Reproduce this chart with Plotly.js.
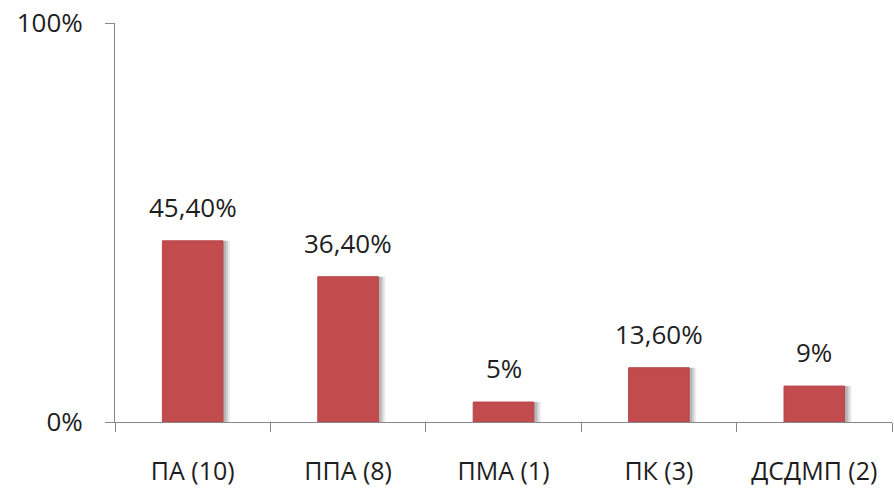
<!DOCTYPE html>
<html>
<head>
<meta charset="utf-8">
<script src="https://cdn.plot.ly/plotly-3.0.1.min.js"></script>
<style>
  html, body { margin: 0; padding: 0; background: #ffffff; }
  #chart { width: 894px; height: 490px; }
</style>
</head>
<body>
<div id="chart"></div>
<script>
// Share of cases by category (count in brackets)
const categories = ['ПА (10)', 'ППА (8)', 'ПМА (1)', 'ПК (3)', 'ДСДМП (2)'];
const shares = [45.4, 36.4, 5, 13.6, 9];
const shareLabels = ['45,40%', '36,40%', '5%', '13,60%', '9%'];
const yTickValues = [0, 100];
const yTickLabels = ['0%', '100%'];

const FONT = '"Open Sans", "Noto Sans", sans-serif';
const BAR_WIDTH = 0.39;

// soft drop shadow: a few translucent grey bars nudged to the right
const shadowLayers = [
  { shift: 0.045, alpha: 0.10 },
  { shift: 0.032, alpha: 0.14 },
  { shift: 0.020, alpha: 0.18 }
].map(s => ({
  type: 'bar',
  x: categories,
  y: shares,
  width: BAR_WIDTH,
  offset: -BAR_WIDTH / 2 + s.shift,
  marker: { color: 'rgba(60,60,60,' + s.alpha + ')', line: { width: 0 } },
  hoverinfo: 'skip',
  showlegend: false
}));

const mainBars = {
  type: 'bar',
  x: categories,
  y: shares,
  width: BAR_WIDTH,
  offset: -BAR_WIDTH / 2,
  marker: { color: '#c24b4e', line: { color: '#b8464a', width: 1 } },
  showlegend: false
};

const valueLabels = categories.map((c, i) => ({
  x: c,
  y: shares[i],
  xref: 'x',
  yref: 'y',
  text: shareLabels[i],
  showarrow: false,
  yanchor: 'bottom',
  yshift: 14,
  font: { family: FONT, size: 26, color: '#1e1e1e' }
}));

const layout = {
  width: 894,
  height: 490,
  margin: { l: 115, r: 2, t: 23, b: 68 },
  paper_bgcolor: '#ffffff',
  plot_bgcolor: '#ffffff',
  barmode: 'overlay',
  showlegend: false,
  xaxis: {
    type: 'category',
    categoryorder: 'array',
    categoryarray: categories,
    showline: true,
    linecolor: '#888888',
    linewidth: 1,
    ticks: 'outside',
    tickson: 'boundaries',
    ticklen: 9,
    tickcolor: '#888888',
    ticklabelstandoff: 27,
    showgrid: false,
    zeroline: false,
    tickfont: { family: FONT, size: 25, color: '#1e1e1e' }
  },
  yaxis: {
    range: [0, 100],
    tickmode: 'array',
    tickvals: yTickValues,
    ticktext: yTickLabels,
    showline: true,
    linecolor: '#888888',
    linewidth: 1,
    ticks: 'outside',
    ticklen: 9,
    tickcolor: '#888888',
    ticklabelstandoff: 17,
    showgrid: true,
    gridcolor: '#e2e5f0',
    zeroline: false,
    fixedrange: true,
    tickfont: { family: FONT, size: 26, color: '#1e1e1e' }
  },
  annotations: valueLabels
};

Plotly.newPlot('chart', shadowLayers.concat([mainBars]), layout, { displayModeBar: false, staticPlot: true });
</script>
</body>
</html>
